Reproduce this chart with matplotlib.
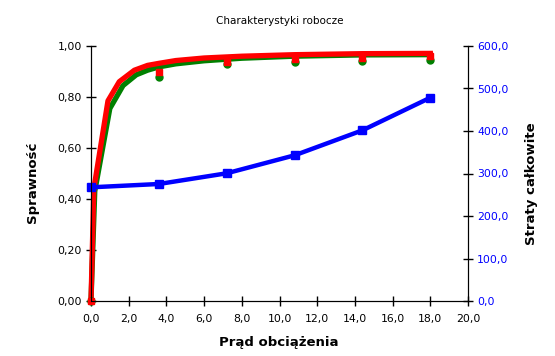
import matplotlib
matplotlib.use("Agg")
import matplotlib.pyplot as plt
from matplotlib.ticker import FuncFormatter, MultipleLocator

# efficiency curves (dense points) and measured points
curve_x_red = [0, 0.15, 0.9, 1.5, 2.3, 3.0, 3.6, 4.5, 6.0, 8.0, 10.8, 14.4, 18.0]
curve_red = [0, 0.44, 0.785, 0.86, 0.905, 0.924, 0.932, 0.943, 0.953, 0.960, 0.966, 0.970, 0.971]
curve_x_green = [0, 0.2, 1.0, 1.7, 2.4, 3.0, 3.6, 4.5, 6.0, 8.0, 10.8, 14.4, 18.0]
curve_green = [0, 0.43, 0.755, 0.845, 0.887, 0.905, 0.918, 0.930, 0.942, 0.952, 0.960, 0.965, 0.966]

current = [0, 3.6, 7.2, 10.8, 14.4, 18.0]
eff_red_pts = [0, 0.898, 0.937, 0.949, 0.953, 0.960]
eff_green_pts = [0, 0.878, 0.930, 0.937, 0.942, 0.944]
losses = [267.5, 275.3, 300.5, 342.8, 401.6, 478.4]

RED = '#ff0000'
GREEN = '#008000'
BLUE = '#0000ff'

fig = plt.figure(figsize=(5.55, 3.56), dpi=100)
ax = fig.add_axes([91 / 555, 55 / 356, 377 / 555, 255 / 356])
ax2 = ax.twinx()

ax.plot(curve_x_green, curve_green, color=GREEN, lw=3.8, zorder=2, clip_on=False)
ax.plot(curve_x_red, curve_red, color=RED, lw=3.8, zorder=3, clip_on=False)
ax.plot(current, eff_green_pts, 'o', color=GREEN, ms=5, zorder=4, clip_on=False)
ax.plot(current, eff_red_pts, 's', color=RED, ms=5, zorder=5, clip_on=False)

ax2.plot(current, losses, '-s', color=BLUE, lw=3.2, ms=6, clip_on=False)

ax.set_xlim(0, 20)
ax.set_ylim(0, 1)
ax2.set_ylim(0, 600)

ax.xaxis.set_major_locator(MultipleLocator(2))
ax.yaxis.set_major_locator(MultipleLocator(0.2))
ax2.yaxis.set_major_locator(MultipleLocator(100))

ax.xaxis.set_major_formatter(FuncFormatter(lambda v, p: f"{v:.1f}".replace('.', ',')))
ax.yaxis.set_major_formatter(FuncFormatter(lambda v, p: f"{v:.2f}".replace('.', ',')))
ax2.yaxis.set_major_formatter(FuncFormatter(lambda v, p: f"{v:.1f}".replace('.', ',')))

for a in (ax, ax2):
    a.spines['top'].set_visible(False)
ax.tick_params(axis='both', direction='inout', length=7, width=1, labelsize=7.8, pad=3)
ax.tick_params(axis='x', pad=6)
ax2.tick_params(axis='y', direction='inout', length=7, width=1, labelsize=7.8,
                labelcolor=BLUE, pad=3)

fig.text(279.5 / 555, 1 - 20.5 / 356, "Charakterystyki robocze", ha='center', va='center',
         fontsize=7.5)
fig.text(279 / 555, 1 - 342.5 / 356, "Prąd obciążenia", ha='center', va='center',
         fontsize=9.5, fontweight='bold')
fig.text(33 / 555, 1 - 182.5 / 356, "Sprawność", ha='center', va='center',
         fontsize=9.5, fontweight='bold', rotation=90)
fig.text(532 / 555, 1 - 184 / 356, "Straty całkowite", ha='center', va='center',
         fontsize=9.5, fontweight='bold', rotation=90)

fig.savefig("out.png", dpi=100)
